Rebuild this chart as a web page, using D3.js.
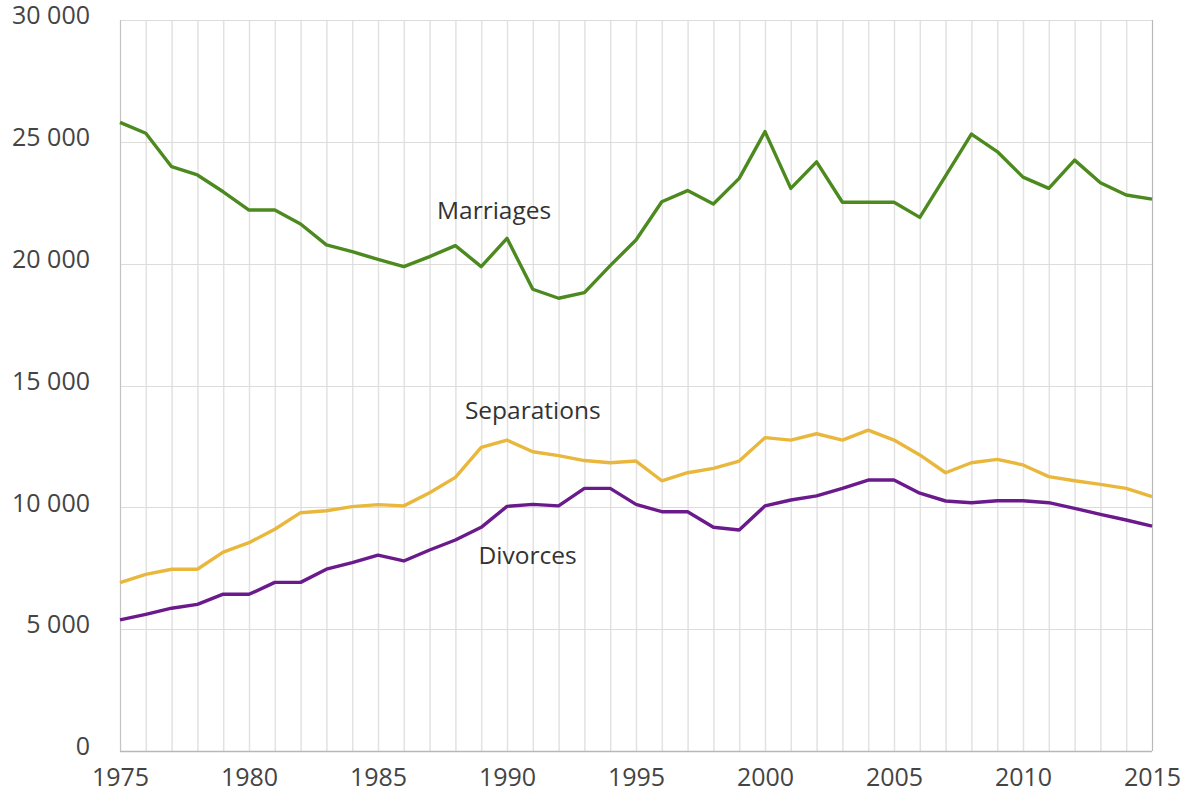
<!DOCTYPE html>
<html>
<head>
<meta charset="utf-8">
<script src="https://cdn.jsdelivr.net/npm/d3@7"></script>
<style>
	body { margin: 0; background: #fff; }
	svg { display: block; font-family: 'Open Sans', sans-serif; }
</style>
</head>
<body>
<svg width="1186" height="794"></svg>
<script>
var years = d3.range(1975, 2016);
var marriages = [25800, 25350, 23980, 23640, 22950, 22200, 22200, 21630, 20770, 20490,
	20180, 19880, 20290, 20740, 19880, 21040, 18950, 18580, 18810, 19920,
	20970, 22540, 23000, 22450, 23500, 25420, 23090, 24180, 22520, 22520,
	22520, 21900, 23600, 25320, 24600, 23550, 23090, 24250, 23320, 22820, 22650];
var separations = [6910, 7250, 7460, 7460, 8160, 8550, 9100, 9780, 9860, 10030,
	10110, 10060, 10600, 11230, 12460, 12760, 12280, 12120, 11920, 11830,
	11900, 11090, 11420, 11600, 11900, 12860, 12760, 13020, 12760, 13170,
	12760, 12150, 11420, 11830, 11970, 11740, 11260, 11090, 10940, 10780, 10440];
var divorces = [5380, 5610, 5860, 6020, 6440, 6430, 6920, 6920, 7460, 7730,
	8040, 7800, 8250, 8660, 9180, 10040, 10120, 10060, 10780, 10780,
	10120, 9820, 9820, 9180, 9070, 10060, 10300, 10470, 10780, 11120,
	11120, 10580, 10260, 10190, 10270, 10270, 10190, 9960, 9710, 9480, 9230];
var yTicks = [0, 5000, 10000, 15000, 20000, 25000, 30000];
var xTicks = [1975, 1980, 1985, 1990, 1995, 2000, 2005, 2010, 2015];

var series = [
	{ name: 'Marriages', values: marriages, color: '#4c8a1f', label: [1989.5, 22100] },
	{ name: 'Separations', values: separations, color: '#e9b73c', label: [1991.0, 13900] },
	{ name: 'Divorces', values: divorces, color: '#6b1a8c', label: [1990.8, 7950] }
];

var plot_left = 120, plot_right = 1152, plot_top = 20, plot_bottom = 751;
var svg = d3.select('svg');
var x = d3.scaleLinear().domain([1975, 2015]).range([plot_left, plot_right]);
var y = d3.scaleLinear().domain([0, 30000]).range([plot_bottom, plot_top]);
var fmt = d => d3.format(',')(d).replace(/,/g, ' ');

// Grid
svg.append('g')
	.selectAll('line')
	.data(years)
	.enter().append('line')
	.attr('x1', d => x(d) + 0.5).attr('x2', d => x(d) + 0.5)
	.attr('y1', plot_top).attr('y2', plot_bottom)
	.attr('stroke', '#e2e2e2').attr('stroke-width', 1.5);
svg.append('g')
	.selectAll('line')
	.data(yTicks)
	.enter().append('line')
	.attr('x1', plot_left).attr('x2', plot_right)
	.attr('y1', d => Math.round(y(d)) + 0.5).attr('y2', d => Math.round(y(d)) + 0.5)
	.attr('stroke', '#dcdcdc').attr('stroke-width', 1.2);

// Frame
svg.append('line').attr('x1', plot_left + 0.5).attr('x2', plot_left + 0.5).attr('y1', plot_top).attr('y2', plot_bottom).attr('stroke', '#c4c4c4');
svg.append('line').attr('x1', plot_right + 0.5).attr('x2', plot_right + 0.5).attr('y1', plot_top).attr('y2', plot_bottom).attr('stroke', '#b8b8b8');
svg.append('line').attr('x1', plot_left).attr('x2', plot_right).attr('y1', plot_bottom + 0.5).attr('y2', plot_bottom + 0.5).attr('stroke', '#b8b8b8').attr('stroke-width', 1.5);

// Axes
var yAxis = svg.append('g')
	.attr('transform', 'translate(' + (plot_left - 30) + ',0)')
	.call(d3.axisLeft(y).tickValues(yTicks).tickFormat(fmt).tickSize(0).tickPadding(0));
yAxis.select('.domain').remove();
yAxis.selectAll('text').attr('font-size', 25).attr('fill', '#444').attr('font-family', "'Open Sans', sans-serif").attr('dy', '0.15em');

var xAxis = svg.append('g')
	.attr('transform', 'translate(0,' + plot_bottom + ')')
	.call(d3.axisBottom(x).tickValues(xTicks).tickFormat(d3.format('d')).tickSize(0).tickPadding(17));
xAxis.select('.domain').remove();
xAxis.selectAll('text').attr('font-size', 25).attr('fill', '#444').attr('font-family', "'Open Sans', sans-serif");

// Lines
var line = d3.line()
	.x((d, i) => x(years[i]))
	.y(d => y(d));
svg.selectAll('.series')
	.data(series)
	.enter().append('path')
	.attr('class', 'series')
	.attr('d', d => line(d.values))
	.attr('fill', 'none')
	.attr('stroke', d => d.color)
	.attr('stroke-width', 3.4)
	.attr('stroke-linejoin', 'round');

// Labels
svg.selectAll('.label')
	.data(series)
	.enter().append('text')
	.attr('class', 'label')
	.attr('x', d => x(d.label[0]))
	.attr('y', d => y(d.label[1]))
	.attr('text-anchor', 'middle')
	.attr('dominant-baseline', 'middle')
	.attr('font-size', 24.5)
	.attr('fill', '#333')
	.text(d => d.name);
</script>
</body>
</html>
